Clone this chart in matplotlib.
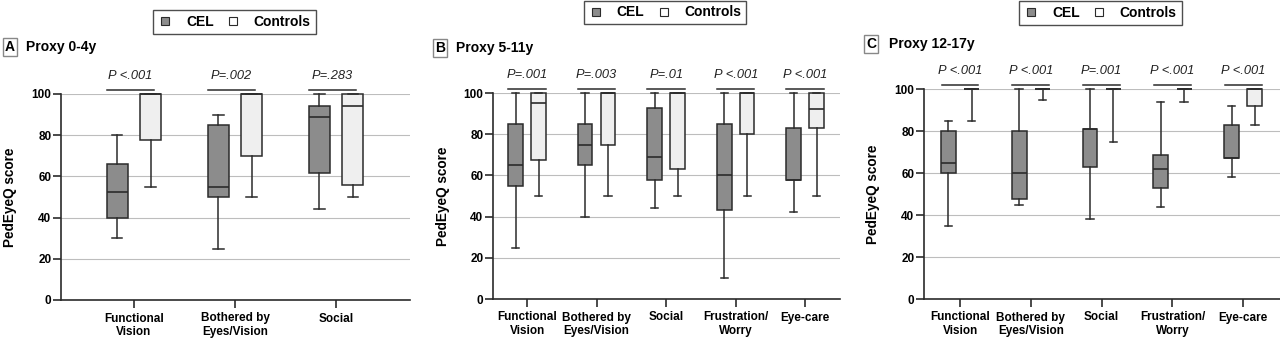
import matplotlib.pyplot as plt
from matplotlib.lines import Line2D

plt.rcParams['font.family'] = ['Liberation Sans', 'DejaVu Sans']

# five-number summaries per category: [low whisker, Q1, median, Q3, high whisker]
a_categories = ["Functional\nVision", "Bothered by\nEyes/Vision", "Social"]
a_cel = [[30, 40, 52.5, 66, 80], [25, 50, 55, 85, 90], [44, 61.5, 89, 94, 100]]
a_controls = [[55, 77.5, 100, 100, 100], [50, 70, 100, 100, 100], [50, 56, 94, 100, 100]]
a_pvalues = ["P <.001", "P=.002", "P=.283"]

b_categories = ["Functional\nVision", "Bothered by\nEyes/Vision", "Social",
                "Frustration/\nWorry", "Eye-care"]
b_cel = [[25, 55, 65, 85, 100], [40, 65, 75, 85, 100], [44, 58, 69, 92.5, 100],
         [10, 43, 60, 85, 100], [42, 58, 58, 83, 100]]
b_controls = [[50, 67.5, 95, 100, 100], [50, 75, 100, 100, 100], [50, 63, 100, 100, 100],
              [50, 80, 100, 100, 100], [50, 83, 92, 100, 100]]
b_pvalues = ["P=.001", "P=.003", "P=.01", "P <.001", "P <.001"]

c_categories = b_categories
c_cel = [[35, 60, 65, 80, 85], [45, 47.5, 60, 80, 100], [38, 63, 81, 81, 100],
         [44, 53, 62, 68.5, 94], [58, 67, 67, 83, 92]]
c_controls = [[85, 100, 100, 100, 100], [95, 100, 100, 100, 100], [75, 100, 100, 100, 100],
              [94, 100, 100, 100, 100], [83, 92, 100, 100, 100]]
c_pvalues = ["P <.001", "P <.001", "P=.001", "P <.001", "P <.001"]

CEL_COLOR = "#8c8c8c"
CTRL_COLOR = "#efefef"
EDGE = "#2b2b2b"


def stats(rows):
    return [dict(whislo=r[0], q1=r[1], med=r[2], q3=r[3], whishi=r[4], fliers=[]) for r in rows]


def draw_panel(ax, cats, cel, ctrl, pvals, xlim, pspan):
    n = len(cats)
    pos = list(range(n))
    w = 0.21
    props = dict(widths=w, capwidths=w / 2, patch_artist=True, manage_ticks=False,
                 whiskerprops=dict(color=EDGE, lw=1.1), capprops=dict(color=EDGE, lw=1.1),
                 medianprops=dict(color=EDGE, lw=1.2))
    b1 = ax.bxp(stats(cel), positions=[p - 0.165 for p in pos],
                boxprops=dict(facecolor=CEL_COLOR, edgecolor=EDGE, lw=1.1), **props)
    b2 = ax.bxp(stats(ctrl), positions=[p + 0.165 for p in pos],
                boxprops=dict(facecolor=CTRL_COLOR, edgecolor=EDGE, lw=1.1), **props)
    for b in (b1, b2):
        for k in ("whiskers", "caps", "medians", "boxes"):
            for a in b[k]:
                a.set_clip_on(False)
    for p, txt in zip(pos, pvals):
        ax.plot([p + pspan[0], p + pspan[1]], [102, 102], color=EDGE, lw=1.1, clip_on=False)
        ax.text(p + (pspan[0] + pspan[1]) / 2, 108.7, txt, ha="center", va="center",
                style="italic", fontsize=9.3, color="#222")
    ax.set_xlim(*xlim)
    ax.set_ylim(0, 100)
    ax.set_yticks([0, 20, 40, 60, 80, 100])
    ax.set_xticks(pos)
    ax.set_xticklabels(cats, fontweight="bold", fontsize=8.5, linespacing=1.15)
    for lab in ax.get_yticklabels():
        lab.set_fontweight("bold")
        lab.set_fontsize(8.5)
    ax.tick_params(axis="x", length=6, width=1.2, color=EDGE, pad=3)
    ax.tick_params(axis="y", length=6, width=1.2, color=EDGE, pad=1)
    ax.grid(axis="y", color="#bdbdbd", lw=0.8)
    ax.set_axisbelow(True)
    for s in ("top", "right"):
        ax.spines[s].set_visible(False)
    for s in ("left", "bottom"):
        ax.spines[s].set_color(EDGE)
        ax.spines[s].set_linewidth(1.2)
    ax.set_ylabel("PedEyeQ score", fontweight="bold", fontsize=9.8)
    ax.yaxis.set_label_coords(-0.125, 0.5)


fig = plt.figure(figsize=(12.8, 3.38), dpi=100)
H = 338.0
W = 1280.0

axA = fig.add_axes([61 / W, (H - 300) / H, 349 / W, 206 / H])
axB = fig.add_axes([493 / W, (H - 299) / H, 347 / W, 206 / H])
axC = fig.add_axes([924 / W, (H - 299) / H, 356 / W, 210 / H])

draw_panel(axA, a_categories, a_cel, a_controls, a_pvalues, (-0.72, 2.73), (-0.27, 0.2))
draw_panel(axB, b_categories, b_cel, b_controls, b_pvalues, (-0.49, 4.5), (-0.27, 0.27))
draw_panel(axC, c_categories, c_cel, c_controls, c_pvalues, (-0.51, 4.52), (-0.26, 0.26))

handles = [Line2D([], [], ls="none", marker="s", markersize=6, markerfacecolor=CEL_COLOR,
                  markeredgecolor=EDGE, markeredgewidth=0.8),
           Line2D([], [], ls="none", marker="s", markersize=6, markerfacecolor="white",
                  markeredgecolor=EDGE, markeredgewidth=0.8)]
labels = ["CEL", "Controls"]
for cx, cy in [(234.5, 22), (665, 12.5), (1100.5, 13)]:
    leg = fig.legend(handles, labels, loc="center", bbox_to_anchor=(cx / W, 1 - cy / H),
                     ncol=2, frameon=True, fancybox=False, edgecolor="#222",
                     prop=dict(weight="bold", size=10), handletextpad=1.0,
                     columnspacing=0.9, borderpad=0.35, borderaxespad=0, handlelength=1.0)
    leg.get_frame().set_linewidth(1.0)

for letter, title, lx, tx, ty in [("A", "Proxy 0-4y", 10, 26, 47),
                                  ("B", "Proxy 5-11y", 440, 456, 48),
                                  ("C", "Proxy 12-17y", 871, 889, 44)]:
    fig.text(lx / W, 1 - ty / H, letter, ha="center", va="center", fontsize=10,
             fontweight="bold",
             bbox=dict(boxstyle="square,pad=0.15", fc="white", ec="#888", lw=1))
    fig.text(tx / W, 1 - ty / H, title, ha="left", va="center", fontsize=10, fontweight="bold")

fig.savefig("out.png", dpi=100)
